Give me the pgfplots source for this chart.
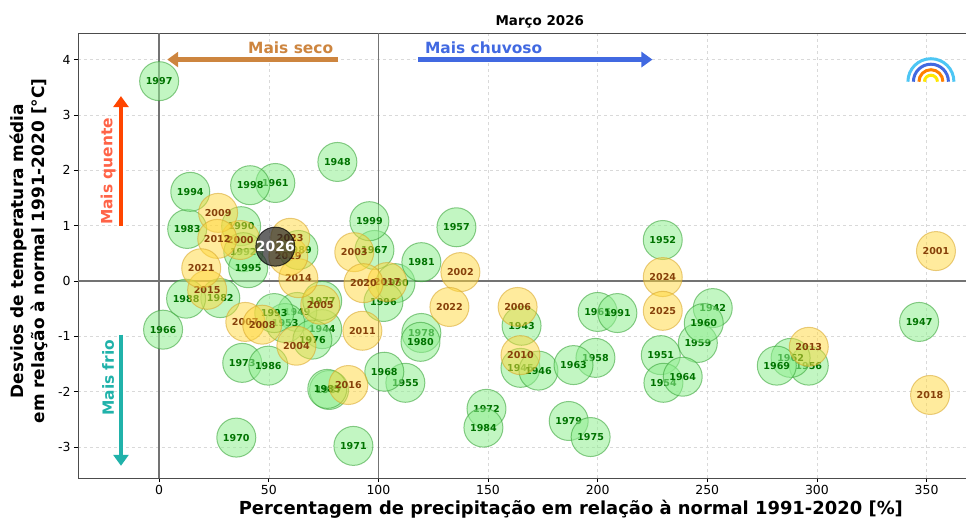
\documentclass[border=0pt]{standalone}
\usepackage{pgfplots}
\pgfplotsset{compat=1.18}
\usepackage{fontspec}
\setmainfont{DejaVu Sans}
\usetikzlibrary{arrows.meta}
\definecolor{gfill}{RGB}{144,238,144}
\definecolor{gedge}{RGB}{50,160,50}
\definecolor{gtext}{RGB}{0,115,0}
\definecolor{yfill}{RGB}{255,215,60}
\definecolor{yedge}{RGB}{215,165,40}
\definecolor{ytext}{RGB}{135,65,10}
\definecolor{seco}{RGB}{205,133,63}
\definecolor{chuva}{RGB}{65,105,225}
\definecolor{quente}{RGB}{255,69,0}
\definecolor{quentet}{RGB}{255,99,71}
\definecolor{frio}{RGB}{32,178,170}
\begin{document}
\begin{tikzpicture}
\begin{axis}[
  scale only axis, width=888bp, height=445bp,
  xmin=-37, xmax=368, ymin=-3.56, ymax=4.48,
  xtick={0,50,...,350}, ytick={-3,...,4},
  tick align=outside, major tick length=4bp,
  tick style={black, line width=0.6pt},
  xtick pos=bottom, ytick pos=left,
  grid=major, grid style={dashed, gray!30, line width=0.5pt},
  axis line style={black!70, line width=0.8pt},
  /pgf/number format/assume math mode=true,
  ticklabel style={font=\fontsize{12.5}{14}\selectfont},
  title={\bfseries Março 2026},
  title style={font=\fontsize{13.5}{16}\selectfont, at={(axis description cs:0.52,1)}, anchor=center, yshift=5bp},
  xlabel={\bfseries Percentagem de precipitação em relação à normal 1991-2020 [\%]},
  xlabel style={font=\fontsize{18}{20}\selectfont, at={(axis description cs:0.555,0)}, anchor=center, yshift=-31bp},
  ylabel={\bfseries Desvios de temperatura média\\\bfseries em relação à normal 1991-2020 [°C]},
  ylabel style={font=\fontsize{17}{21}\selectfont, align=center, at={(axis description cs:-0.055,0.51)}, anchor=center},
  clip=false,
]
% reference lines
\draw[black!55, line width=1.3pt] (axis cs:0,-3.56) -- (axis cs:0,4.48);
\draw[black!55, line width=1.3pt] (axis cs:100,-3.56) -- (axis cs:100,4.48);
\draw[black!55, line width=1.3pt] (axis cs:-37,0) -- (axis cs:368,0);

% green (before 2000)
\addplot[only marks, mark=*, mark size=19.5bp,
  mark options={fill=gfill, draw=gedge, fill opacity=0.55, draw opacity=0.55, line width=1pt},
  point meta=explicit symbolic,
  nodes near coords={\pgfplotspointmeta},
  nodes near coords align=center,
  every node near coord/.append style={anchor=center, text=gtext, opacity=1, text opacity=1, font=\bfseries\fontsize{9.6}{10}\selectfont}]
table[meta=lab]{
x y lab
252.5 -0.49 1942
165.3 -0.81 1943
74.4 -0.87 1944
164.8 -1.57 1945
173 -1.62 1946
346.6 -0.74 1947
81.3 2.15 1948
63 -0.56 1949
107.8 -0.04 1950
228.8 -1.34 1951
229.7 0.74 1952
57.5 -0.76 1953
230 -1.84 1954
112.3 -1.84 1955
296.3 -1.53 1956
135.6 0.97 1957
199 -1.39 1958
245.7 -1.12 1959
248.4 -0.76 1960
53 1.77 1961
288 -1.39 1962
189 -1.52 1963
238.8 -1.73 1964
200 -0.56 1965
1.8 -0.88 1966
98.2 0.56 1967
102.7 -1.64 1968
281.7 -1.53 1969
35.2 -2.83 1970
88.6 -2.98 1971
149.3 -2.31 1972
37.9 -1.48 1973
186.8 -2.53 1979
196.8 -2.82 1975
69.9 -1.06 1976
74.4 -0.36 1977
119.6 -0.94 1978
119.2 -1.10 1980
119.6 0.34 1981
27.9 -0.31 1982
12.8 0.94 1983
147.9 -2.65 1984
77.5 -1.97 1987
76.7 -1.95 1985
49.8 -1.53 1986
12.3 -0.32 1988
63.5 0.56 1989
37.4 0.99 1990
209 -0.58 1991
38.4 0.52 1992
52.5 -0.58 1993
14.2 1.61 1994
40.6 0.23 1995
102.3 -0.38 1996
0 3.61 1997
41.5 1.73 1998
95.9 1.08 1999
};

% yellow (2000-2025)
\addplot[only marks, mark=*, mark size=19.5bp,
  mark options={fill=yfill, draw=yedge, fill opacity=0.5, draw opacity=0.55, line width=1pt},
  point meta=explicit symbolic,
  nodes near coords={\pgfplotspointmeta},
  nodes near coords align=center,
  every node near coord/.append style={anchor=center, text=ytext, opacity=1, text opacity=1, font=\bfseries\fontsize{9.6}{10}\selectfont}]
table[meta=lab]{
x y lab
37 0.74 2000
354.3 0.54 2001
137.4 0.16 2002
89 0.52 2003
62.6 -1.17 2004
73.5 -0.43 2005
163.5 -0.47 2006
39.3 -0.74 2007
47 -0.79 2008
26.9 1.23 2009
164.8 -1.34 2010
92.7 -0.90 2011
26.5 0.76 2012
296.3 -1.19 2013
63.5 0.05 2014
21.9 -0.16 2015
86.3 -1.88 2016
104 -0.02 2017
351.6 -2.06 2018
58.9 0.45 2019
93.2 -0.04 2020
19.2 0.23 2021
132.4 -0.47 2022
59.8 0.78 2023
229.7 0.07 2024
229.7 -0.54 2025
};

% current year
\addplot[only marks, mark=*, mark size=19.5bp,
  mark options={fill=black!85, draw=black, fill opacity=0.7, draw opacity=0.7, line width=1pt},
  point meta=explicit symbolic,
  nodes near coords={\pgfplotspointmeta},
  nodes near coords align=center,
  every node near coord/.append style={anchor=center, text=white, opacity=1, text opacity=1, font=\bfseries\fontsize{14}{16}\selectfont}]
table[meta=lab]{
x y lab
53 0.62 2026
};

% annotations
\draw[seco, line width=4.5bp, -{Triangle[width=15bp,length=11bp]}] (axis cs:81.7,4.0) -- (axis cs:3.7,4.0);
\node[text=seco, font=\bfseries\fontsize{15.5}{17}\selectfont] at (axis cs:60,4.22) {Mais seco};
\draw[chuva, line width=4.5bp, -{Triangle[width=15bp,length=11bp]}] (axis cs:118,4.0) -- (axis cs:225,4.0);
\node[text=chuva, font=\bfseries\fontsize{15.5}{17}\selectfont] at (axis cs:148,4.22) {Mais chuvoso};
\draw[quente, line width=4.5bp, -{Triangle[width=15bp,length=11bp]}] (axis cs:-17.4,0.99) -- (axis cs:-17.4,3.34);
\node[text=quentet, rotate=90, font=\bfseries\fontsize{15.5}{17}\selectfont] at (axis cs:-23.3,1.98) {Mais quente};
\draw[frio, line width=4.5bp, -{Triangle[width=15bp,length=11bp]}] (axis cs:-17.4,-0.97) -- (axis cs:-17.4,-3.34);
\node[text=frio, rotate=90, font=\bfseries\fontsize{15.5}{17}\selectfont] at (axis cs:-23.3,-1.75) {Mais frio};

\coordinate (logo) at (axis cs:352,3.6);
\coordinate (sw) at (rel axis cs:0,0);
\coordinate (ne) at (rel axis cs:1,1);
\end{axis}
% logo
\draw[line width=3bp, cyan!70] (logo) ++(23bp,0) arc[start angle=0, end angle=180, radius=23bp];
\draw[line width=3bp, chuva] (logo) ++(17.5bp,0) arc[start angle=0, end angle=180, radius=17.5bp];
\draw[line width=3bp, orange] (logo) ++(12bp,0) arc[start angle=0, end angle=180, radius=12bp];
\draw[line width=3bp, yellow!90!orange] (logo) ++(6.5bp,0) arc[start angle=0, end angle=180, radius=6.5bp];
\pgfresetboundingbox
\path[use as bounding box] ([shift={(-78bp,-40bp)}]sw) rectangle ([shift={(0bp,33bp)}]ne);
\end{tikzpicture}
\end{document}
